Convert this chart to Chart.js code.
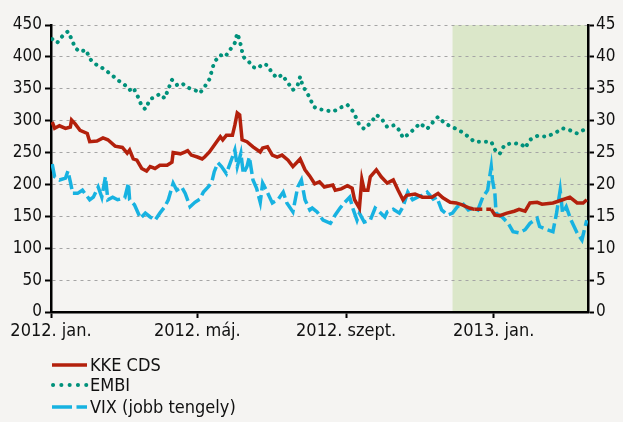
<!DOCTYPE html>
<html>
<head>
<meta charset="utf-8">
<script src="https://cdn.jsdelivr.net/npm/chart.js@4.4.1/dist/chart.umd.min.js"></script>
<style>
  html, body { margin: 0; padding: 0; background: #f5f4f2; overflow: hidden; }
  #wrap { width: 623px; height: 422px; position: relative; }
</style>
</head>
<body>
<div id="wrap"><canvas id="myChart" width="623" height="422"></canvas></div>
<script>
// x values are days counted from 2012-01-01
const xTickDays = [0, 121, 244, 366];
const xTickLabels = ['2012. jan.', '2012. máj.', '2012. szept.', '2013. jan.'];
const shadeStartDay = 332;
const lastDay = 444;

const cdsDays = [1,3,7,12,16,17,20,24,30,32,38,43,47,53,59,63,65,68,71,75,79,82,86,90,96,100,101,107,111,113,116,121,125,127,131,137,140,142,145,150,152,154,156,158,162,167,173,175,179,183,187,191,196,200,206,210,214,218,222,226,233,235,240,245,249,251,255,257,259,262,264,269,273,278,283,287,291,294,301,307,315,320,324,330,335,340,346,350,357,364,367,371,377,383,387,392,396,402,406,415,423,429,435,440,443];
const cdsValues = [298,288,292,288,290,301,295,285,280,267,268,273,270,260,258,249,254,240,238,225,221,228,225,230,230,235,250,248,251,253,246,243,240,243,251,267,275,270,277,277,293,312,309,270,267,259,251,257,259,246,243,246,238,228,240,223,213,201,204,196,199,191,193,198,194,176,163,208,191,191,212,223,212,202,207,191,176,183,185,180,180,186,179,172,171,168,163,161,null,161,152,151,155,158,161,158,171,172,169,171,176,180,171,171,176];

const embiDays = [1,5,10,14,17,20,24,29,32,38,43,50,55,61,65,68,72,75,78,82,86,90,94,100,104,108,113,119,123,127,131,135,140,144,148,152,154,156,159,163,167,171,175,179,183,187,191,196,200,204,206,208,214,217,221,225,233,240,245,250,255,259,265,269,273,278,284,288,291,295,301,305,311,315,320,326,332,340,345,350,357,364,368,371,375,382,389,392,396,402,410,418,423,429,435,440,443];
const embiValues = [428,422,434,440,428,414,408,411,397,387,382,372,364,356,348,352,337,323,318,334,337,342,335,364,356,359,352,348,343,353,365,392,403,400,411,422,437,426,400,394,384,382,389,387,374,367,372,359,348,356,369,355,336,322,318,317,314,321,325,314,293,287,298,309,304,290,293,285,273,278,288,296,287,296,306,295,290,282,275,267,267,267,251,248,262,265,263,257,270,276,275,282,288,285,280,285,293];

const vixDays = [1,3,7,12,14,16,18,22,26,32,35,39,42,45,47,51,55,61,64,65,69,74,78,82,86,90,94,97,101,104,108,111,115,119,123,126,130,133,135,138,141,145,150,152,154,157,159,162,164,167,170,173,175,178,183,188,192,195,200,204,207,210,214,216,220,225,231,235,239,243,247,250,253,255,259,264,268,270,276,278,283,288,291,295,299,303,307,311,316,319,323,328,332,336,340,345,349,353,357,361,364,365,367,368,373,378,382,387,392,396,402,404,410,415,418,421,423,426,430,435,439,441,443];
const vixValues = [23.2,21.2,20.7,21.0,22.1,20.4,18.6,18.6,19.1,17.6,18.0,19.6,18.0,21.2,17.6,18.0,17.6,17.9,20.2,17.6,16.8,14.7,15.5,14.9,14.4,15.5,16.5,17.6,20.2,19.1,19.6,18.6,16.5,17.2,17.7,18.8,19.6,20.4,22.0,23.4,22.8,21.7,24.3,25.4,22.8,24.9,21.7,22.8,24.3,20.7,19.4,17.2,20.2,19.1,17.1,17.7,18.8,17.1,15.7,19.6,20.7,17.6,16.0,16.3,15.7,14.4,13.9,15.2,16.3,17.2,18.0,16.0,14.4,15.5,14.1,14.4,16.3,16.0,14.9,15.7,16.1,15.5,16.5,18.8,17.6,18.0,18.3,18.8,17.7,18.0,16.0,15.2,15.5,16.5,17.1,16.0,16.3,16.0,18.0,19.1,22.8,20.7,18.6,15.5,14.9,13.9,12.6,12.4,12.9,13.9,14.7,13.4,12.9,12.6,15.5,19.1,15.5,16.5,14.4,12.4,11.3,12.9,14.4];

const seriesNames = ['KKE CDS', 'EMBI', 'VIX (jobb tengely)'];
const seriesColors = ['#b3200c', '#00917b', '#17b2e1'];

const FONT = '"DejaVu Sans Condensed", "DejaVu Sans", sans-serif';

function toPoints(days, vals) {
  return days.map((d, i) => ({ x: d, y: vals[i] }));
}

const bgShade = {
  id: 'bgShade',
  beforeDraw(chart) {
    const { ctx, chartArea, scales } = chart;
    ctx.save();
    ctx.fillStyle = '#f5f4f2';
    ctx.fillRect(0, 0, chart.width, chart.height);
    const x0 = scales.x.getPixelForValue(shadeStartDay);
    ctx.fillStyle = '#dbe7c9';
    ctx.fillRect(x0, chartArea.top, chartArea.right - x0, chartArea.bottom - chartArea.top);
    ctx.restore();
  }
};

const sideLegend = {
  id: 'sideLegend',
  afterDraw(chart) {
    const ctx = chart.ctx;
    const rows = [365, 385, 407];
    ctx.save();
    ctx.lineWidth = 3.5;
    // KKE CDS
    ctx.strokeStyle = seriesColors[0];
    ctx.beginPath(); ctx.moveTo(52, rows[0]); ctx.lineTo(87, rows[0]); ctx.stroke();
    // EMBI
    ctx.strokeStyle = seriesColors[1];
    ctx.lineWidth = 4;
    ctx.lineCap = 'round';
    ctx.setLineDash([0.1, 8.2]);
    ctx.beginPath(); ctx.moveTo(53, rows[1]); ctx.lineTo(87, rows[1]); ctx.stroke();
    // VIX
    ctx.strokeStyle = seriesColors[2];
    ctx.lineWidth = 3.5;
    ctx.lineCap = 'butt';
    ctx.setLineDash([20, 4.5]);
    ctx.beginPath(); ctx.moveTo(52, rows[2]); ctx.lineTo(87, rows[2]); ctx.stroke();
    ctx.setLineDash([]);
    ctx.fillStyle = '#111';
    ctx.font = '18px ' + FONT;
    ctx.textBaseline = 'middle';
    seriesNames.forEach((n, i) => ctx.fillText(n, 90, rows[i] + 1));
    ctx.restore();
  }
};

const config = {
  type: 'line',
  data: {
    datasets: [{
      label: seriesNames[0],
      data: toPoints(cdsDays, cdsValues),
      borderColor: seriesColors[0],
      borderWidth: 3.5,
      pointRadius: 0,
      spanGaps: true,
      tension: 0,
      yAxisID: 'y',
      segment: {
        borderDash: c => (c.p0.skip || c.p1.skip) ? [8, 4] : undefined
      }
    }, {
      label: seriesNames[1],
      data: toPoints(embiDays, embiValues),
      borderColor: seriesColors[1],
      borderWidth: 4,
      borderDash: [0.1, 7],
      borderCapStyle: 'round',
      pointRadius: 0,
      tension: 0,
      yAxisID: 'y'
    }, {
      label: seriesNames[2],
      data: toPoints(vixDays, vixValues),
      borderColor: seriesColors[2],
      borderWidth: 3.5,
      borderDash: [14, 4.5],
      pointRadius: 0,
      tension: 0,
      yAxisID: 'y1'
    }]
  },
  options: {
    animation: false,
    responsive: false,
    layout: { padding: { top: 25 } },
    plugins: {
      legend: { display: false },
      tooltip: { enabled: false }
    },
    scales: {
      x: {
        type: 'linear',
        min: 0,
        max: lastDay,
        afterBuildTicks(scale) {
          scale.ticks = xTickDays.map(v => ({ value: v }));
        },
        afterFit(scale) { scale.height = 110; },
        ticks: {
          autoSkip: false,
          maxRotation: 0,
          padding: 3,
          color: '#111',
          font: { family: FONT, size: 18 },
          callback: (v) => xTickLabels[xTickDays.indexOf(v)]
        },
        grid: { drawOnChartArea: false, drawTicks: true, tickLength: 6, tickColor: '#000', tickWidth: 2 },
        border: { color: '#000', width: 2.5 }
      },
      y: {
        position: 'left',
        min: 0,
        max: 450,
        afterFit(scale) { scale.width = 51; },
        ticks: {
          stepSize: 50,
          padding: 3,
          color: '#111',
          font: { family: FONT, size: 17 }
        },
        grid: { color: '#a5a5a5', lineWidth: 1, tickLength: 6, tickColor: '#000', tickWidth: 2 },
        border: { color: '#000', width: 2.5, dash: [3, 4] }
      },
      y1: {
        position: 'right',
        min: 0,
        max: 45,
        afterFit(scale) { scale.width = 35; },
        ticks: {
          stepSize: 5,
          padding: 2,
          color: '#111',
          font: { family: FONT, size: 17 }
        },
        grid: { drawOnChartArea: false, tickLength: 6, tickColor: '#000', tickWidth: 2 },
        border: { color: '#000', width: 2.5 }
      }
    }
  },
  plugins: [bgShade, sideLegend]
};

let myChart = new Chart(document.getElementById('myChart'), config);
</script>
</body>
</html>
